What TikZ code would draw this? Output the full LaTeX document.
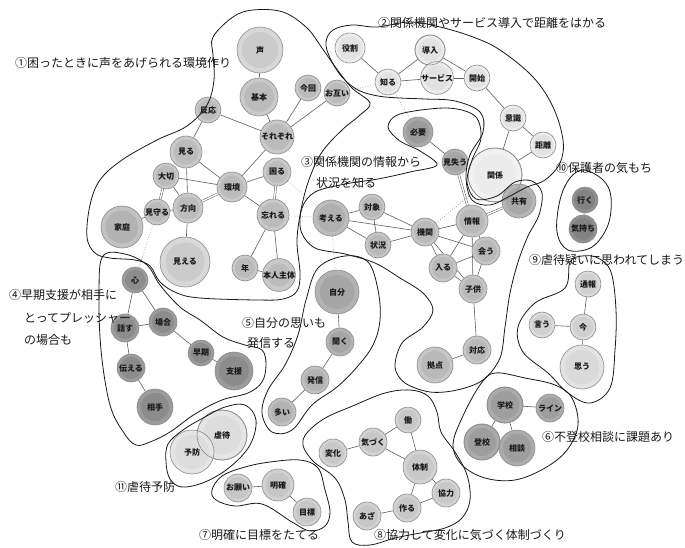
\documentclass[tikz,border=0pt]{standalone}
\usepackage{fontspec}
\setmainfont{Noto Sans CJK JP}
\pgfdeclarelayer{bg}
\pgfsetlayers{bg,main}
% outer / inner fills per shade key
\definecolor{cOa}{HTML}{C9C9C9}\definecolor{cIa}{HTML}{BBBBBB}
\definecolor{cOb}{HTML}{D8D8D8}\definecolor{cIb}{HTML}{CBCBCB}
\definecolor{cOc}{HTML}{C2C2C2}\definecolor{cIc}{HTML}{B3B3B3}
\definecolor{cOd}{HTML}{ECECEC}\definecolor{cId}{HTML}{E2E2E2}
\definecolor{cOe}{HTML}{F1F1F1}\definecolor{cIe}{HTML}{ECECEC}
\definecolor{cOf}{HTML}{A9A9A9}\definecolor{cIf}{HTML}{9B9B9B}
\definecolor{cOg}{HTML}{B2B2B2}\definecolor{cIg}{HTML}{A5A5A5}
\definecolor{cOh}{HTML}{B5B5B5}\definecolor{cIh}{HTML}{A8A8A8}
\definecolor{cOk}{HTML}{BDBDBD}\definecolor{cIk}{HTML}{B0B0B0}
\definecolor{cOm}{HTML}{C6C6C6}\definecolor{cIm}{HTML}{B9B9B9}
\definecolor{cOn}{HTML}{8F8F8F}\definecolor{cIn}{HTML}{828282}
\definecolor{cOp}{HTML}{DCDCDC}\definecolor{cIp}{HTML}{D0D0D0}
\definecolor{cOq}{HTML}{E3E3E3}\definecolor{cIq}{HTML}{DADADA}
\definecolor{cOr}{HTML}{9B9B9B}\definecolor{cIr}{HTML}{8C8C8C}
\definecolor{cOs}{HTML}{B3B3B3}\definecolor{cIs}{HTML}{A6A6A6}
\definecolor{cOt}{HTML}{C0C0C0}\definecolor{cIt}{HTML}{B3B3B3}
\definecolor{cOu}{HTML}{ABABAB}\definecolor{cIu}{HTML}{9E9E9E}
\definecolor{cOv}{HTML}{E5E5E5}\definecolor{cIv}{HTML}{DDDDDD}
\definecolor{cOw}{HTML}{D1D1D1}\definecolor{cIw}{HTML}{C6C6C6}
\definecolor{cOx}{HTML}{D3D3D3}\definecolor{cIx}{HTML}{C8C8C8}
\definecolor{edgecol}{HTML}{5E5E5E}
\tikzset{
  wnode/.style={circle,draw=black!45,line width=0.6pt,inner sep=0pt,
    font=\bfseries\fontsize{8}{8}\selectfont,text=black!90},
  ring/.style={draw=black!45,line width=0.6pt},
  edge/.style={draw=edgecol,line width=0.6pt},
  dbl/.style={draw=edgecol,line width=0.5pt,double=white,double distance=1.4pt},
  dotedge/.style={draw=black!45,line width=0.6pt,dotted},
  blob/.style={draw=black!90,line width=0.8pt},
  lab/.style={inner sep=0pt,font=\fontsize{12}{12}\selectfont,text=black!90}
}
\newcommand\wn[5]{\node[wnode,minimum size={2*#3pt},fill=cO#4,
  path picture={\fill[cI#4] (path picture bounding box.center) circle ({0.78*#3pt});}]
  (#1) at (#2) {#5};}
\begin{document}
\begin{tikzpicture}[x=1pt,y=-1pt]
\begin{pgfonlayer}{bg}
\fill[white] (0,0) rectangle (685,547);
\end{pgfonlayer}
\useasboundingbox (0,0) rectangle (685,547);
% ---------- nodes ----------
% group 1
\wn{koe}{260,50}{23}{b}{声}
\wn{kihon}{259,97}{19}{a}{基本}
\wn{konkai}{308,88}{13}{a}{今回}
\wn{otagai}{337,93}{13}{a}{お互い}
\wn{hannou}{208,110}{13}{a}{反応}
\wn{sorezore}{277,137}{17}{a}{それぞれ}
\wn{miru}{186,152}{16}{a}{見る}
\wn{taisetsu}{166,176}{13}{a}{大切}
\wn{kankyou}{232,187}{15}{a}{環境}
\wn{komaru}{277,172}{14}{a}{困る}
\wn{mimamoru}{157,212}{13}{a}{見守る}
\wn{houkou}{188,208}{15}{a}{方向}
\wn{wasureru}{273,215}{16}{a}{忘れる}
\wn{katei}{122,227}{21}{c}{家庭}
\wn{mieru}{185,262}{25}{b}{見える}
\wn{toshi}{245,268}{13}{a}{年}
\wn{honnin}{279,275}{15}{a}{本人主体}
% group 2
\wn{yakuwari}{350,48}{15}{d}{役割}
\wn{dounyu}{430,50}{15}{d}{導入}
\wn{shiru}{388,82}{13}{d}{知る}
\wn{service}{437,78}{16}{d}{サービス}
\wn{kaishi}{477,78}{13}{d}{開始}
\wn{ishiki}{513,118}{13}{d}{意識}
\wn{kyori}{543,145}{13}{d}{距離}
\wn{kankei}{495,175}{27}{e}{関係}
% group 3
\wn{hitsuyou}{418,132}{15}{f}{必要}
\wn{miushinau}{455,162}{13}{g}{見失う}
\wn{kyouyu}{519,201}{17}{h}{共有}
\wn{kangaeru}{331,218}{18}{k}{考える}
\wn{taishou}{372,207}{13}{m}{対象}
\wn{joukyou}{378,245}{13}{m}{状況}
\wn{kikan}{425,232}{14}{m}{機関}
\wn{jouhou}{472,221}{16}{m}{情報}
\wn{au}{486,251}{14}{m}{会う}
\wn{hairu}{443,268}{14}{m}{入る}
\wn{kodomo}{473,289}{14}{m}{子供}
\wn{taiou}{477,350}{14}{m}{対応}
\wn{kyoten}{435,365}{18}{m}{拠点}
% group 10
\wn{iku}{585,200}{13}{n}{行く}
\wn{kimochi}{583,229}{14}{n}{気持ち}
% group 9
\wn{tsuhou}{588,284}{13}{p}{通報}
\wn{iu}{542,325}{13}{p}{言う}
\wn{ima}{583,327}{13}{p}{今}
\wn{omou}{582,367}{22}{q}{思う}
% group 4
\wn{kokoro}{135,280}{13}{r}{心}
\wn{hanasu}{125,328}{14}{r}{話す}
\wn{baai}{163,322}{14}{r}{場合}
\wn{souki}{201,353}{13}{r}{早期}
\wn{shien}{234,371}{19}{r}{支援}
\wn{tsutaeru}{131,368}{14}{r}{伝える}
\wn{aite}{155,407}{18}{r}{相手}
% group 5
\wn{jibun}{337,292}{22}{s}{自分}
\wn{kiku}{340,342}{14}{s}{聞く}
\wn{hasshin}{315,380}{14}{t}{発信}
\wn{ooi}{282,412}{14}{t}{多い}
% group 6
\wn{gakkou}{505,405}{18}{u}{学校}
\wn{line}{550,408}{14}{u}{ライン}
\wn{toukou}{482,442}{18}{u}{登校}
\wn{soudan}{517,448}{18}{u}{相談}
% group 11
\wn{gyakutai}{222,435}{25}{v}{虐待}
\wn{yobou}{192,452}{22}{v}{予防}
% group 7
\wn{onegai}{238,488}{14}{w}{お願い}
\wn{meikaku}{278,485}{16}{w}{明確}
\wn{mokuhyou}{307,512}{14}{w}{目標}
% group 8
\wn{hataraku}{408,420}{13}{x}{働}
\wn{kizuku}{373,442}{14}{x}{気づく}
\wn{henka}{333,453}{14}{x}{変化}
\wn{taisei}{420,467}{17}{x}{体制}
\wn{kyouryoku}{446,493}{14}{x}{協力}
\wn{tsukuru}{407,508}{14}{x}{作る}
\wn{aza}{367,516}{14}{x}{あざ}
% outlines of overlapped circles, visible through the upper ones
\draw[ring] (gyakutai) circle[radius=25pt];
\draw[ring] (dounyu) circle[radius=15pt];
\draw[ring] (kankei) circle[radius=27pt];
\draw[ring] (toukou) circle[radius=18pt];
\draw[ring] (gakkou) circle[radius=18pt];
% ---------- edges ----------
\begin{pgfonlayer}{bg}
\foreach \a/\b in {koe/kihon,kihon/sorezore,konkai/sorezore,otagai/sorezore,
  hannou/sorezore,hannou/miru,sorezore/kankyou,miru/houkou,miru/kankyou,
  taisetsu/kankyou,taisetsu/houkou,kankyou/komaru,kankyou/wasureru,
  mimamoru/houkou,mimamoru/katei,houkou/mieru,wasureru/toshi,wasureru/honnin,
  toshi/honnin,
  yakuwari/shiru,shiru/dounyu,shiru/service,dounyu/kaishi,service/kaishi,
  kaishi/ishiki,ishiki/kyori,ishiki/kankei,kyori/kankei,
  hitsuyou/miushinau,kangaeru/taishou,kangaeru/kikan,kangaeru/joukyou,
  taishou/joukyou,taishou/kikan,joukyou/kikan,kikan/jouhou,kikan/au,
  kikan/hairu,kikan/kodomo,jouhou/au,jouhou/hairu,jouhou/kodomo,au/hairu,
  au/kodomo,hairu/kodomo,kodomo/taiou,taiou/kyoten,
  iku/kimochi,tsuhou/ima,iu/ima,ima/omou,
  kokoro/hanasu,kokoro/baai,hanasu/baai,baai/souki,souki/shien,
  hanasu/tsutaeru,tsutaeru/aite,
  jibun/kiku,kiku/hasshin,hasshin/ooi,
  gakkou/line,gakkou/toukou,gakkou/soudan,
  onegai/meikaku,meikaku/mokuhyou,
  henka/kizuku,kizuku/hataraku,kizuku/taisei,hataraku/taisei,
  taisei/kyouryoku,taisei/tsukuru,kyouryoku/tsukuru,tsukuru/aza}
  {\draw[edge] (\a) -- (\b);}
\foreach \a/\b in {sorezore/komaru,taisetsu/mimamoru,kankyou/houkou,
  komaru/wasureru,miushinau/jouhou,jouhou/kyouyu}
  {\draw[dbl] (\a) -- (\b);}
\foreach \a/\b in {otagai/shiru,shiru/hitsuyou,komaru/kangaeru,
  wasureru/kangaeru,mimamoru/kokoro,kangaeru/jibun,kikan/kankei}
  {\draw[dotedge] (\a) -- (\b);}
\end{pgfonlayer}
% ---------- group outlines ----------
% 1
\draw[blob] plot[smooth cycle,tension=0.6] coordinates {
 (213,37) (233,17) (253,10) (283,12) (307,28) (322,48) (336,68) (352,88)
 (370,103) (360,115) (342,130) (322,152) (310,177) (302,205) (297,240)
 (300,273) (297,291) (283,299) (257,300) (200,298) (177,293) (160,282)
 (150,266) (135,260) (110,258) (95,253) (87,237) (90,205) (100,180)
 (122,160) (157,140) (187,126) (207,105) (214,80) (213,55)};
% 2
\draw[blob] plot[smooth cycle,tension=0.6] coordinates {
 (333,30) (352,25) (377,27) (410,22) (440,27) (473,37) (500,50) (533,77)
 (553,107) (563,140) (560,163) (545,180) (527,187) (510,196) (490,205)
 (472,200) (466,178) (470,155) (483,132) (480,112) (455,101) (425,99)
 (400,98) (378,96) (358,90) (342,77) (330,58) (326,42)};
% 3
\draw[blob] plot[smooth cycle,tension=0.55] coordinates {
 (388,127) (400,114) (447,108) (475,116) (481,138) (472,160) (467,182)
 (476,199) (497,196) (515,182) (532,181) (542,193) (539,215) (528,236)
 (518,262) (510,293) (505,327) (500,358) (483,380) (457,390) (430,392)
 (405,383) (395,367) (402,343) (423,327) (433,310) (423,293) (400,278)
 (375,263) (345,254) (315,248) (301,231) (302,208) (315,192) (345,184)
 (378,179) (410,172) (437,165) (420,151) (400,141)};
% 10
\draw[blob] plot[smooth cycle,tension=0.6] coordinates {
 (570,178) (584,170) (603,180) (611,197) (608,225) (592,247) (568,250)
 (557,232) (560,200)};
% 9
\draw[blob] plot[smooth cycle,tension=0.6] coordinates {
 (570,262) (565,288) (535,303) (518,327) (523,352) (548,373) (568,393)
 (590,403) (610,388) (615,350) (616,310) (611,272) (598,258) (582,256)};
% 4
\draw[blob] plot[smooth cycle,tension=0.6] coordinates {
 (103,256) (125,254) (147,265) (160,285) (180,307) (200,320) (223,337)
 (245,345) (262,350) (266,365) (262,382) (248,393) (222,400) (195,414)
 (170,432) (150,442) (136,445) (124,433) (110,405) (101,350) (99,290)};
% 5
\draw[blob] plot[smooth cycle,tension=0.6] coordinates {
 (318,268) (345,256) (368,262) (378,290) (380,320) (373,345) (357,367)
 (337,387) (312,405) (292,430) (272,432) (262,413) (268,390) (285,365)
 (298,335) (306,300)};
% 6
\draw[blob] plot[smooth cycle,tension=0.6] coordinates {
 (480,385) (495,373) (525,378) (555,385) (572,398) (578,425) (567,450)
 (545,468) (515,480) (485,478) (462,465) (453,445) (462,418)};
% 11
\draw[blob] plot[smooth cycle,tension=0.6] coordinates {
 (166,462) (168,444) (183,430) (203,418) (225,407) (245,405) (256,420)
 (250,445) (230,467) (205,482) (182,487) (170,479)};
% 7
\draw[blob] plot[smooth cycle,tension=0.6] coordinates {
 (212,490) (222,476) (245,467) (270,462) (300,460) (318,468) (325,490)
 (330,512) (325,526) (310,531) (292,522) (262,504) (235,506) (216,500)};
% 8
\draw[blob] plot[smooth cycle,tension=0.6] coordinates {
 (303,440) (322,420) (355,405) (385,393) (410,390) (428,396) (437,412)
 (441,432) (455,452) (467,475) (470,500) (462,518) (445,528) (420,533)
 (395,538) (370,545) (352,542) (348,522) (345,500) (335,478) (312,460)};
% ---------- labels ----------
\node[lab,anchor=west] (lab1) at (15,63) {①困ったときに声をあげられる環境作り};
\node[lab,anchor=west] (lab2) at (378,23) {②関係機関やサービス導入で距離をはかる};
\node[lab,anchor=west] (lab3a) at (301,162) {③関係機関の情報から};
\node[lab,anchor=west] (lab3b) at (316,183) {状況を知る};
\node[lab,anchor=west] (lab4a) at (9,295) {④早期支援が相手に};
\node[lab,anchor=west] (lab4b) at (24,318) {とってプレッシャー};
\node[lab,anchor=west] (lab4c) at (24,340) {の場合も};
\node[lab,anchor=west] (lab5a) at (242,323) {⑤自分の思いも};
\node[lab,anchor=west] (lab5b) at (247,343) {発信する};
\node[lab,anchor=west] (lab6) at (542,437) {⑥不登校相談に課題あり};
\node[lab,anchor=west] (lab7) at (199,535) {⑦明確に目標をたてる};
\node[lab,anchor=west] (lab8) at (374,535) {⑧協力して変化に気づく体制づくり};
\node[lab,anchor=west] (lab9) at (529,260) {⑨虐待疑いに思われてしまう};
\node[lab,anchor=west] (lab10) at (556,168) {⑩保護者の気もち};
\node[lab,anchor=west] (lab11) at (115,487) {⑪虐待予防};
\end{tikzpicture}
\end{document}
